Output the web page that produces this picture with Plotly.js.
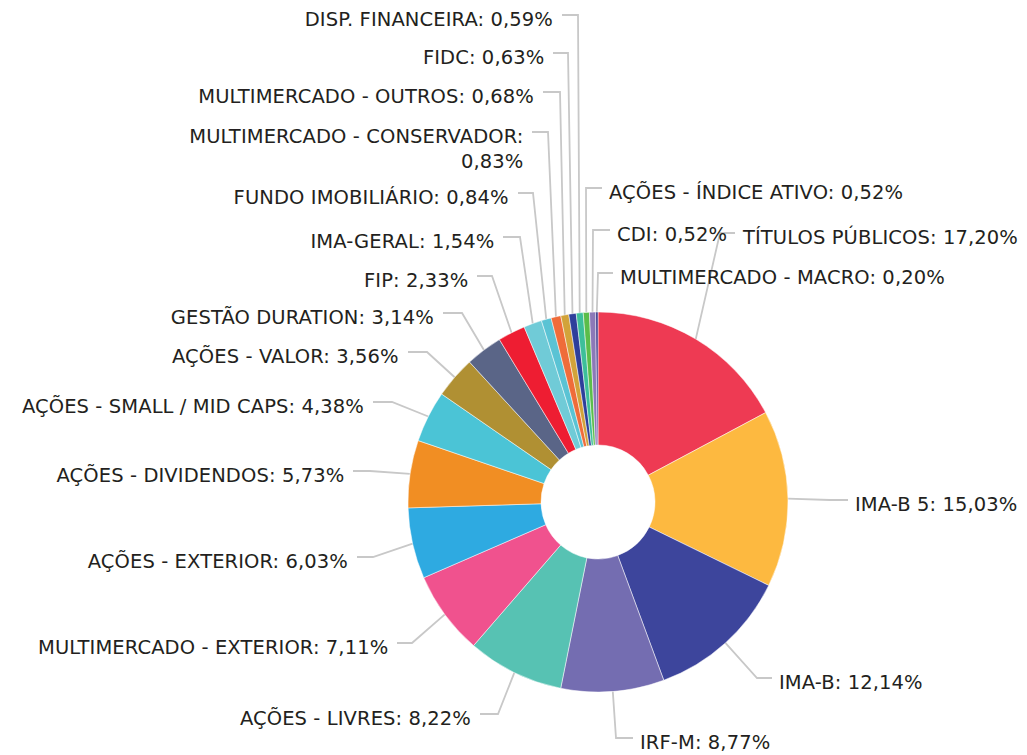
<!DOCTYPE html>
<html>
<head>
<meta charset="utf-8">
<script src="https://cdn.plot.ly/plotly-3.0.1.min.js"></script>
<style>
html,body{margin:0;padding:0;background:#fff;}
#chart{width:1027px;height:755px;}
#chart .annotation-text{letter-spacing:0.1px;}
</style>
</head>
<body>
<div id="chart"></div>
<script>
// ---- data (clockwise from 12 o'clock) ----
const labels = [
  "TÍTULOS PÚBLICOS", "IMA-B 5", "IMA-B", "IRF-M", "AÇÕES - LIVRES",
  "MULTIMERCADO - EXTERIOR", "AÇÕES - EXTERIOR", "AÇÕES - DIVIDENDOS",
  "AÇÕES - SMALL / MID CAPS", "AÇÕES - VALOR", "GESTÃO DURATION", "FIP",
  "IMA-GERAL", "FUNDO IMOBILIÁRIO", "MULTIMERCADO - CONSERVADOR",
  "MULTIMERCADO - OUTROS", "FIDC", "DISP. FINANCEIRA",
  "AÇÕES - ÍNDICE ATIVO", "CDI", "MULTIMERCADO - MACRO"
];
const values = [17.20, 15.03, 12.14, 8.77, 8.22, 7.11, 6.03, 5.73, 4.38, 3.56,
  3.14, 2.33, 1.54, 0.84, 0.83, 0.68, 0.63, 0.59, 0.52, 0.52, 0.20];
const colors = ["#EE3A53", "#FDB940", "#3D459C", "#746DB1", "#57C2B3",
  "#F0528E", "#2EAAE1", "#F18E23", "#4BC4D6", "#B09033", "#5A6587", "#EE1D32",
  "#70CBD7", "#5AC3D4", "#EF6C3A", "#D2A33A", "#2E3F9B", "#3DBF9A",
  "#5BBD4A", "#8C79B8", "#3D3A8C"];
// label text (with line breaks where the reference wraps)
const labelText = labels.map(l => l === "MULTIMERCADO - CONSERVADOR" ? l + ":<br>" : l + ": ");

// ---- label layout (pixels): start of leader line near the text, elbow x, side ----
const anchorX = [735, 848, 772, 633, 480, 397, 357, 353, 373, 408, 443, 477, 503, 518, 532, 543, 553, 562, 602, 610, 613];
const anchorY = [233, 500, 678, 738, 714, 643, 557, 471, 402, 352, 313, 276, 237, 193, 132, 92, 53, 15, 188, 230, 273];
const elbowX  = [720, 830, 757, 616, 498, 412, 373, 370, 392, 427, 462, 492, 520, 533, 548, 560, 568, 578, 586, 593, 598];
const side    = ["r","r","r","r","l","l","l","l","l","l","l","l","l","l","l","l","l","l","r","r","r"];

const W = 1027, H = 755;
const CX = 598, CY = 502, R = 190, HOLE = 0.30;

function fmt(v){ return v.toFixed(2).replace('.', ',') + '%'; }

const total = values.reduce((a, b) => a + b, 0);
let cum = 0;
const lx = [], ly = [];
const annotations = [];
values.forEach((v, i) => {
  const mid = (cum + v / 2) / total * 2 * Math.PI;
  cum += v;
  const px = CX + R * Math.sin(mid);
  const py = CY - R * Math.cos(mid);
  lx.push(anchorX[i], elbowX[i], px, null);
  ly.push(anchorY[i], anchorY[i], py, null);
  const txt = labelText[i] + fmt(v);
  const multi = txt.indexOf('<br>') >= 0;
  annotations.push({
    xref: 'x', yref: 'y',
    x: side[i] === 'l' ? anchorX[i] - 8 : anchorX[i] + 6,
    y: anchorY[i] + 4 + (multi ? 12.5 : 0),
    text: txt, showarrow: false,
    xanchor: side[i] === 'l' ? 'right' : 'left', yanchor: 'middle',
    align: side[i] === 'l' ? 'right' : 'left',
    borderpad: 0,
    font: {family: '"DejaVu Sans", sans-serif', size: 19.5, color: '#231F20'}
  });
});

const pie = {
  type: 'pie', labels: labels, values: values, sort: false,
  direction: 'clockwise', rotation: 0, hole: HOLE,
  marker: {colors: colors, line: {color: '#ffffff', width: 0.5}},
  textinfo: 'none', hoverinfo: 'label+value', showlegend: false,
  domain: {x: [(CX - R) / W, (CX + R) / W], y: [(H - CY - R) / H, (H - CY + R) / H]}
};
const lines = {
  type: 'scatter', mode: 'lines', x: lx, y: ly,
  line: {color: '#C8C8C8', width: 1.8}, hoverinfo: 'skip', showlegend: false
};

Plotly.newPlot('chart', [lines, pie], {
  width: W, height: H,
  margin: {l: 0, r: 0, t: 0, b: 0},
  paper_bgcolor: '#ffffff', plot_bgcolor: 'rgba(0,0,0,0)',
  showlegend: false,
  xaxis: {range: [0, W], visible: false, fixedrange: true},
  yaxis: {range: [H, 0], visible: false, fixedrange: true},
  annotations: annotations
}, {displayModeBar: false, staticPlot: true});
</script>
</body>
</html>
